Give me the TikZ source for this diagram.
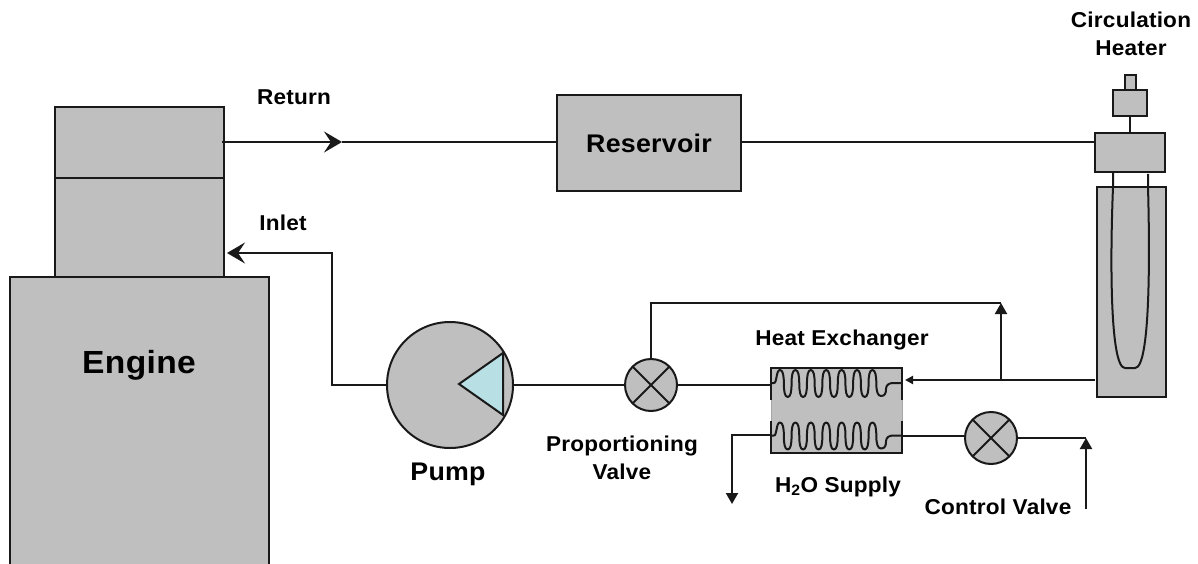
\documentclass[tikz,border=0pt]{standalone}
\usepackage{fontspec}
\setmainfont[FakeStretch=1.05,LetterSpace=1]{Liberation Sans}
\usetikzlibrary{arrows.meta}
\definecolor{tri}{HTML}{B8E0E4}
\tikzset{x=1pt,y=-1pt,
 part/.style={draw=black!90,fill=black!25,line width=2pt,inner sep=0pt,outer sep=0pt},
 thick part/.style={part,line width=2.5pt},
 pipe/.style={draw=black!90,line width=2pt},
 bigflow/.style={pipe,-{Stealth[length=18pt,width=21pt,inset=7pt]}},
 upflow/.style={pipe,-{Triangle[length=11pt,width=12pt]}},
 smallflow/.style={pipe,-{Triangle[length=8pt,width=8pt]}},
 label/.style={font=\bfseries\fontsize{21.5}{28}\selectfont,align=center,inner sep=0pt,text=black},
 coil/.style={draw=black!90,line width=2pt,line join=round}
}
\newcommand{\boxat}[5][part]{\node[#1,minimum width=#4pt,minimum height=#5pt,anchor=north west] (#2) at #3 {};}
\newcommand{\valve}[2]{%
 \node[part,circle,minimum size=52pt] (#1) at #2 {};
 \draw[pipe] (#1.45) -- (#1.225) (#1.135) -- (#1.315);}
\begin{document}
\begin{tikzpicture}
\useasboundingbox (0,0) rectangle (1198,564);
\boxat{engine}{(10,277)}{259}{290}
\boxat{headlow}{(55,178)}{169}{99}
\boxat{headup}{(55,107)}{169}{71}
\boxat{reservoir}{(557,95)}{184}{96}
\boxat{tube}{(1097,187)}{69}{210}
\boxat[thick part]{heater}{(1095,133)}{70}{39}
\boxat{capa}{(1113,90)}{34}{26}
\boxat{capb}{(1125,75)}{11}{15}
\node[part,circle,minimum size=126pt] (pump) at (450,385) {};
\coordinate (tipa) at (459,384);
\coordinate (tipb) at (503,353);
\coordinate (tipc) at (503,415);
\draw[pipe,fill=tri] (tipa) -- (tipb) -- (tipc) -- cycle;
\valve{pv}{(651,385)}
\valve{cv}{(991,438)}
% heat exchanger
\node[draw=black!35,fill=black!25,line width=1pt,minimum width=131pt,minimum height=85pt,anchor=north west,inner sep=0pt,outer sep=0pt] (hx) at (771,368) {};
\coordinate (hxa) at (771,400);
\coordinate (hxb) at (902,400);
\coordinate (hxc) at (771,421);
\coordinate (hxd) at (902,421);
\draw[pipe] (hxa) -- (hx.north west) -- (hx.north east) -- (hxb);
\draw[pipe] (hx.north west |- hxc) -- (hx.south west) -- (hx.south east) -- (hxd);
\foreach \yo in {0,1}{
\begin{scope}[yshift=-\yo*52.5pt]
\draw[coil]
 (771,383) -- (774,383) .. controls (777,383) and (776,370) .. (780,370)
 \foreach \k [evaluate=\k as \x using 780+15.4*\k] in {0,...,5}{
 .. controls ({\x+3},370) and ({\x+3.85},376) .. ({\x+3.85},383.5)
 .. controls ({\x+3.85},391) and ({\x+4.7},397) .. ({\x+7.7},397)
 .. controls ({\x+10.7},397) and ({\x+11.55},391) .. ({\x+11.55},383.5)
 .. controls ({\x+11.55},376) and ({\x+12.4},370) .. ({\x+15.4},370)
 }
 .. controls (875.4,370) and (876.3,376) .. (876.3,383.5)
 .. controls (876.3,392) and (878,396) .. (881,396)
 .. controls (885,396) and (886,393) .. (886,389)
 .. controls (886,385) and (889,383) .. (893,383) -- (902,383);
\end{scope}}
% U tube
\coordinate (ua) at (1113,172);
\coordinate (ub) at (1148,174);
\draw[pipe] (ua) -- (1113,187) .. controls (1110,260) and (1110,368) .. (1125,368) -- (1135,368) .. controls (1150,368) and (1150,260) .. (1148,187) -- (ub);
% connectors
\coordinate (retstart) at (222,142);
\coordinate (retmid) at (342,142);
\draw[pipe] (retmid) -- (reservoir.west |- retmid);
\draw[bigflow] (retstart) -- (retmid);
\draw[pipe] (reservoir.east |- retmid) -- (heater.west |- retmid);
\draw[pipe] (capa.south) -- (heater.north);
\coordinate (inA) at (332,385);
\coordinate (inB) at (332,253);
\coordinate (inEnd) at (227,253);
\draw[bigflow] (pump.west) -- (inA) -- (inB) -- (inEnd);
\draw[pipe] (pump.east) -- (pv.west);
\draw[pipe] (pv.east) -- (hx.west |- pv.east);
\coordinate (tubeOut) at (1095,380);
\coordinate (hxIn) at (905,380);
\draw[smallflow] (tubeOut) -- (hxIn);
\coordinate (byA) at (651,303);
\coordinate (byB) at (1001,303);
\coordinate (byC) at (1001,380);
\draw[pipe] (pv.north) -- (byA) -- (byB);
\draw[upflow] (byC) -- (byB);
\coordinate (outS) at (771,435);
\coordinate (outA) at (732,435);
\coordinate (outB) at (732,504);
\draw[upflow] (outS) -- (outA) -- (outB);
\coordinate (hxOut) at (902,436);
\coordinate (cvIn) at (965,436);
\draw[pipe] (hxOut) -- (cvIn);
\coordinate (supA) at (1086,438);
\coordinate (supB) at (1086,509);
\draw[pipe] (cv.east) -- (supA);
\draw[upflow] (supB) -- (supA);
% labels
\node[label] (lreturn) at (294,97) {Return};
\node[label] (linlet) at (283,223) {Inlet};
\node[label,font=\bfseries\fontsize{25.5}{28}\selectfont] (lres) at (649,143) {Reservoir};
\node[label,font=\bfseries\fontsize{32}{34}\selectfont] (lengine) at (139,365) {Engine};
\node[label,font=\bfseries\fontsize{25.5}{28}\selectfont] (lpump) at (448,474) {Pump};
\node[label] (lpv) at (622,458) {Proportioning\\Valve};
\node[label] (lhx) at (842,340) {Heat Exchanger};
\node[label] (lsup) at (838,487) {H\textsubscript{2}O Supply};
\node[label] (lcv) at (998,507) {Control Valve};
\node[label] (lch) at (1131,34) {Circulation\\Heater};
\end{tikzpicture}
\end{document}
